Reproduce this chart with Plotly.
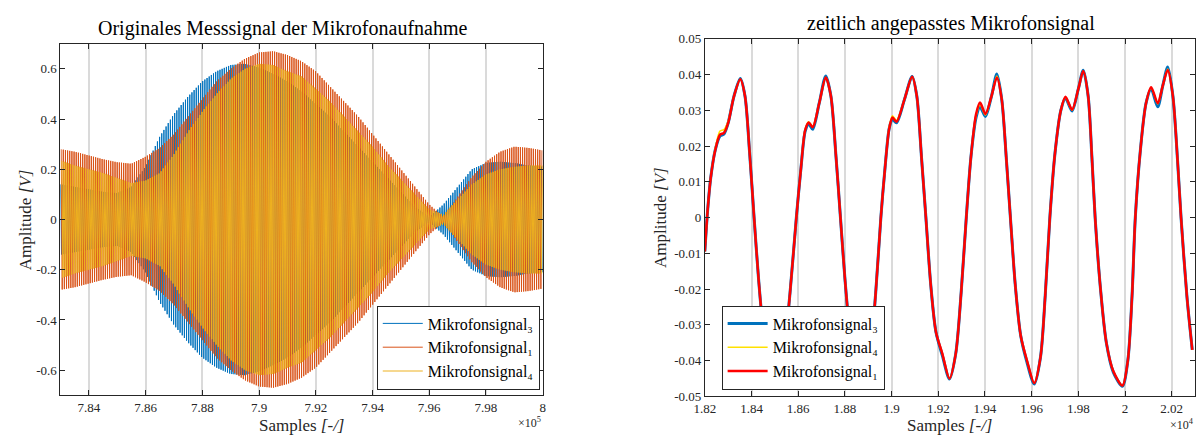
import numpy as np
import plotly.graph_objects as go

# ---------------- left plot data (envelopes) ----------------
env_x = list(range(783000, 800001, 500))
env_sig3 = [0.14, 0.13, 0.12, 0.11, 0.105, 0.13, 0.21, 0.33, 0.42, 0.49, 0.55, 0.59,
            0.615, 0.62, 0.605, 0.58, 0.55, 0.51, 0.46, 0.41, 0.35, 0.29, 0.23, 0.17,
            0.11, 0.05, 0.01, 0.06, 0.13, 0.20, 0.225, 0.23, 0.225, 0.215, 0.21]
env_sig1 = [0.28, 0.27, 0.255, 0.24, 0.228, 0.222, 0.25, 0.285, 0.34, 0.41, 0.48, 0.55,
            0.60, 0.64, 0.665, 0.67, 0.655, 0.63, 0.59, 0.53, 0.47, 0.41, 0.34, 0.27,
            0.20, 0.13, 0.06, 0.01, 0.09, 0.17, 0.23, 0.27, 0.29, 0.285, 0.275]
env_sig4 = [0.235, 0.215, 0.20, 0.185, 0.165, 0.145, 0.155, 0.185, 0.26, 0.35, 0.43, 0.50,
            0.56, 0.60, 0.62, 0.615, 0.59, 0.57, 0.52, 0.47, 0.41, 0.35, 0.29, 0.22,
            0.16, 0.10, 0.04, 0.02, 0.08, 0.14, 0.18, 0.20, 0.21, 0.215, 0.215]
carrier_period = 76
left_xticks = [784000, 786000, 788000, 790000, 792000, 794000, 796000, 798000, 800000]
left_xticklabels = ["7.84", "7.86", "7.88", "7.9", "7.92", "7.94", "7.96", "7.98", "8"]
left_yticks = [-0.6, -0.4, -0.2, 0, 0.2, 0.4, 0.6]
left_yticklabels = ["-0.6", "-0.4", "-0.2", "0", "0.2", "0.4", "0.6"]

# ---------------- right plot data ----------------
r_x = [18200, 18212, 18225, 18245, 18265, 18282, 18300, 18325, 18352, 18372, 18392, 18411,
       18430, 18450, 18470, 18490, 18515, 18540, 18565, 18592, 18612, 18630, 18645, 18662,
       18690, 18718, 18740, 18762, 18781, 18800, 18820, 18840, 18860, 18885, 18910, 18932,
       18954, 18972, 18990, 19004, 19021, 19055, 19088, 19108, 19128, 19147, 19168, 19190,
       19217, 19248, 19275, 19298, 19320, 19340, 19362, 19379, 19402, 19428, 19451, 19472,
       19492, 19509, 19530, 19553, 19580, 19611, 19638, 19658, 19678, 19700, 19725, 19745,
       19773, 19800, 19821, 19842, 19858, 19872, 19895, 19920, 19950, 19989, 20012, 20030,
       20044, 20066, 20090, 20112, 20140, 20162, 20183, 20205, 20225, 20240, 20265, 20288]
sig1 = [-0.0095, 0.002, 0.011, 0.019, 0.0232, 0.0237, 0.0265, 0.034, 0.0387, 0.034, 0.018, 0.0,
        -0.017, -0.031, -0.038, -0.042, -0.0445, -0.037, -0.021, 0.0, 0.014, 0.0245, 0.0266, 0.0253,
        0.032, 0.0392, 0.034, 0.017, 0.0, -0.017, -0.031, -0.038, -0.042, -0.0445, -0.037, -0.021,
        0.0, 0.014, 0.025, 0.028, 0.0268, 0.033, 0.0394, 0.034, 0.017, 0.0, -0.019, -0.032,
        -0.038, -0.045, -0.038, -0.021, 0.0, 0.017, 0.029, 0.0322, 0.029, 0.034, 0.0392, 0.033,
        0.016, 0.0, -0.019, -0.033, -0.040, -0.0463, -0.039, -0.022, 0.0, 0.018, 0.030, 0.0338,
        0.0302, 0.036, 0.041, 0.034, 0.017, 0.0, -0.020, -0.035, -0.043, -0.047, -0.040, -0.022,
        0.0, 0.019, 0.032, 0.0365, 0.032, 0.037, 0.0413, 0.034, 0.016, 0.0, -0.022, -0.037]
sig3 = [-0.0095, 0.002, 0.011, 0.019, 0.0228, 0.0234, 0.0265, 0.034, 0.0389, 0.034, 0.018, 0.0,
        -0.017, -0.031, -0.038, -0.042, -0.0445, -0.037, -0.021, 0.0, 0.014, 0.0242, 0.0262, 0.0247,
        0.032, 0.0396, 0.034, 0.017, 0.0, -0.017, -0.031, -0.038, -0.042, -0.0445, -0.037, -0.021,
        0.0, 0.014, 0.025, 0.0275, 0.0265, 0.033, 0.0395, 0.034, 0.017, 0.0, -0.019, -0.032,
        -0.0385, -0.0452, -0.038, -0.021, 0.0, 0.017, 0.028, 0.031, 0.0283, 0.034, 0.0402, 0.033,
        0.016, 0.0, -0.019, -0.033, -0.0405, -0.0466, -0.039, -0.022, 0.0, 0.018, 0.030, 0.0334,
        0.0298, 0.036, 0.0412, 0.034, 0.017, 0.0, -0.020, -0.035, -0.0433, -0.0472, -0.040, -0.022,
        0.0, 0.019, 0.032, 0.036, 0.031, 0.037, 0.0421, 0.034, 0.016, 0.0, -0.022, -0.037]
sig4 = [-0.0095, 0.002, 0.011, 0.0195, 0.0242, 0.0246, 0.027, 0.034, 0.0387, 0.034, 0.018, 0.0,
        -0.017, -0.031, -0.038, -0.042, -0.0445, -0.037, -0.021, 0.0, 0.014, 0.0248, 0.0268, 0.0255,
        0.032, 0.0392, 0.034, 0.017, 0.0, -0.017, -0.031, -0.038, -0.042, -0.0445, -0.037, -0.021,
        0.0, 0.014, 0.0255, 0.0285, 0.0272, 0.033, 0.0394, 0.034, 0.017, 0.0, -0.019, -0.032,
        -0.038, -0.045, -0.038, -0.021, 0.0, 0.017, 0.0285, 0.0316, 0.0287, 0.034, 0.0396, 0.033,
        0.016, 0.0, -0.019, -0.033, -0.040, -0.0463, -0.039, -0.022, 0.0, 0.018, 0.030, 0.0336,
        0.030, 0.036, 0.041, 0.034, 0.017, 0.0, -0.020, -0.035, -0.043, -0.047, -0.040, -0.022,
        0.0, 0.019, 0.032, 0.0364, 0.0318, 0.037, 0.0416, 0.034, 0.016, 0.0, -0.022, -0.037]
right_xticks = [18200, 18400, 18600, 18800, 19000, 19200, 19400, 19600, 19800, 20000, 20200]
right_xticklabels = ["1.82", "1.84", "1.86", "1.88", "1.9", "1.92", "1.94", "1.96", "1.98", "2", "2.02"]
right_yticks = [-0.05, -0.04, -0.03, -0.02, -0.01, 0, 0.01, 0.02, 0.03, 0.04, 0.05]
right_yticklabels = ["-0.05", "-0.04", "-0.03", "-0.02", "-0.01", "0", "0.01", "0.02", "0.03", "0.04", "0.05"]

SERIF = "Liberation Serif"
AX = "#262626"
GRID = "#dadada"
W, H = 1203, 440


def zigzag(env, phase):
    peaks = np.arange(env_x[0] + phase, env_x[-1], carrier_period / 2)
    amp = np.interp(peaks, env_x, env)
    sign = np.where(np.arange(len(peaks)) % 2 == 0, 1.0, -1.0)
    return peaks, amp * sign


fig = go.Figure()
for env, name, color, ph in [(env_sig3, "Mikrofonsignal₃", "#0072BD", 0),
                             (env_sig1, "Mikrofonsignal₁", "#D95319", 25),
                             (env_sig4, "Mikrofonsignal₄", "#EDB120", 51)]:
    xs, ys = zigzag(env, ph)
    fig.add_trace(go.Scatter(x=xs, y=ys, mode="lines", name=name,
                             line=dict(color=color, width=1), xaxis="x", yaxis="y",
                             legend="legend"))

for ys, name, color, w in [(sig3, "Mikrofonsignal₃", "#0072BD", 3),
                           (sig4, "Mikrofonsignal₄", "#FFE100", 1.5),
                           (sig1, "Mikrofonsignal₁", "#FF0000", 2.5)]:
    fig.add_trace(go.Scatter(x=r_x, y=ys, mode="lines", name=name,
                             line=dict(color=color, width=w, shape="spline", smoothing=0.8),
                             xaxis="x2", yaxis="y2", legend="legend2"))


def px(x):
    return x / W


def py(y):
    return 1 - y / H


axis_common = dict(showline=True, linecolor=AX, linewidth=1, mirror="ticks", ticks="inside",
                   ticklen=5, tickcolor=AX, zeroline=False,
                   tickfont=dict(family=SERIF, size=13, color=AX))

legend_common = dict(bordercolor=AX, borderwidth=1, bgcolor="white",
                     font=dict(family=SERIF, size=16, color="black"), itemwidth=40,
                     tracegroupgap=0)

fig.update_layout(
    width=W, height=H, margin=dict(l=0, r=0, t=0, b=0),
    paper_bgcolor="white", plot_bgcolor="white",
    font=dict(family=SERIF, color=AX),
    xaxis=dict(domain=[px(50), px(538)], range=[783000, 800000], tickmode="array",
               tickvals=left_xticks, ticktext=left_xticklabels, showgrid=True,
               gridcolor=GRID, gridwidth=1.5, anchor="y", **axis_common),
    yaxis=dict(domain=[py(402), py(38)], range=[-0.7, 0.7], tickmode="array",
               tickvals=left_yticks, ticktext=left_yticklabels, showgrid=False,
               anchor="x", **axis_common),
    xaxis2=dict(domain=[px(702), px(1198)], range=[18200, 20300], tickmode="array",
                tickvals=right_xticks, ticktext=right_xticklabels, showgrid=True,
                gridcolor=GRID, gridwidth=1.5, anchor="y2", **axis_common),
    yaxis2=dict(domain=[py(403), py(33)], range=[-0.05, 0.05], tickmode="array",
                tickvals=right_yticks, ticktext=right_yticklabels, showgrid=False,
                anchor="x2", **axis_common),
    legend=dict(x=px(535), y=py(396), xanchor="right", yanchor="bottom", **legend_common),
    legend2=dict(x=px(719), y=py(396), xanchor="left", yanchor="bottom", **legend_common),
    showlegend=True,
)

ann = []
ann.append(dict(text="Originales Messsignal der Mikrofonaufnahme", x=px(275), y=py(22),
                font=dict(size=20, family=SERIF, color="black")))
ann.append(dict(text="zeitlich angepasstes Mikrofonsignal", x=px(951), y=py(17),
                font=dict(size=20, family=SERIF, color="black")))
ann.append(dict(text="Samples <i>[-/]</i>", x=px(294), y=py(433),
                font=dict(size=17, family=SERIF, color=AX)))
ann.append(dict(text="Samples <i>[-/]</i>", x=px(950), y=py(433),
                font=dict(size=17, family=SERIF, color=AX)))
ann.append(dict(text="Amplitude <i>[V]</i>", x=px(15), y=py(220), textangle=-90,
                font=dict(size=17, family=SERIF, color=AX)))
ann.append(dict(text="Amplitude <i>[V]</i>", x=px(657), y=py(218), textangle=-90,
                font=dict(size=17, family=SERIF, color=AX)))
ann.append(dict(text="×10<sup>5</sup>", x=px(538), y=py(430), xanchor="right",
                font=dict(size=12, family=SERIF, color=AX)))
ann.append(dict(text="×10<sup>4</sup>", x=px(1199), y=py(432), xanchor="right",
                font=dict(size=12, family=SERIF, color=AX)))
for a in ann:
    a.update(xref="paper", yref="paper", showarrow=False)
    a.setdefault("xanchor", "center")
    a.setdefault("yanchor", "middle")
fig.update_layout(annotations=ann)

fig.write_html("out.html")
